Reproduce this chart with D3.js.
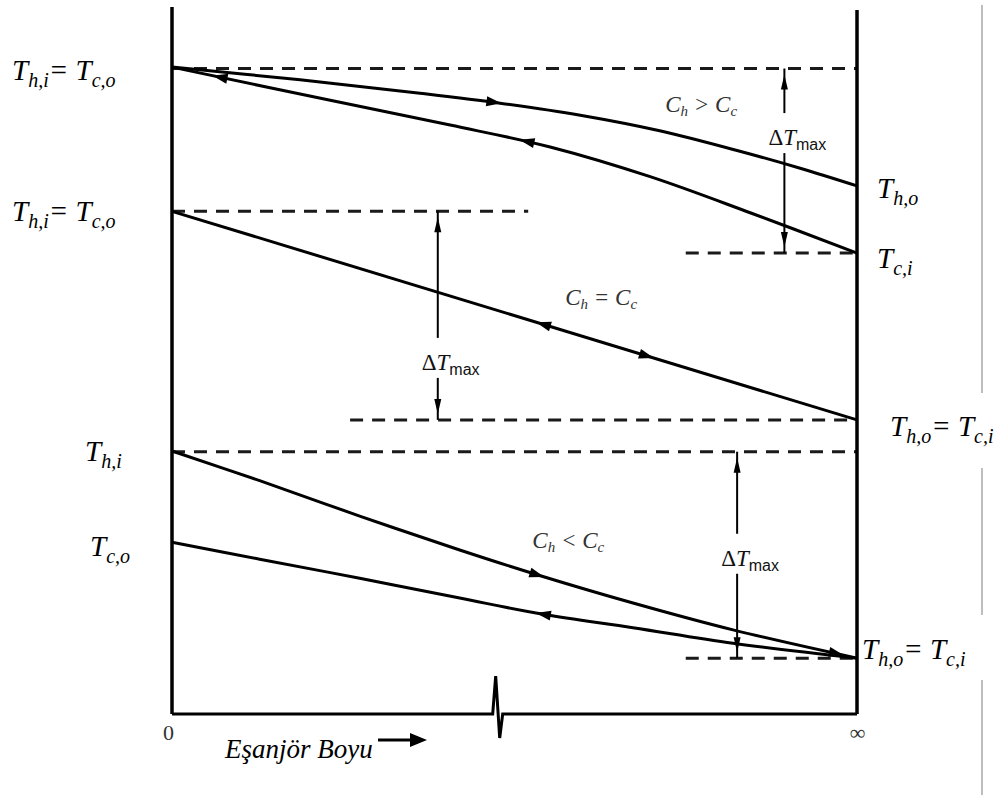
<!DOCTYPE html>
<html>
<head>
<meta charset="utf-8">
<script src="https://cdn.jsdelivr.net/npm/d3@7"></script>
<style>
  body { margin: 0; background: #fff; }
  svg { display: block; }
</style>
</head>
<body>
<svg id="chart" width="1003" height="800"></svg>
<script>
// Position along the exchanger: 0 = entrance, 1 = infinite length
const xTickValues = [0, 1];
const xTickLabels = ["0", "\u221E"];

// Case C_h > C_c : hot and cold temperature profiles
const hot1X  = [0, 0.187, 0.362, 0.479, 0.596, 0.712, 0.829, 0.917, 1];
const hot1T  = [91.5, 89.7, 87.8, 86.4, 84.7, 82.5, 79.6, 77.2, 74.7];
const cold1X = [0, 0.231, 0.406, 0.552, 0.698, 0.844, 1];
const cold1T = [91.5, 86.8, 83.3, 80.2, 76.0, 70.9, 65.2];

// Case C_h = C_c : both streams share one straight profile
const equal2X = [0, 1];
const equal2T = [71.1, 41.6];

// Case C_h < C_c
const hot3X  = [0, 0.128, 0.274, 0.42, 0.533, 0.673, 0.819, 1];
const hot3T  = [37.2, 33.0, 28.0, 23.2, 19.7, 15.7, 11.9, 7.9];
const cold3X = [0, 0.128, 0.274, 0.42, 0.542, 0.673, 0.819, 1];
const cold3T = [24.3, 21.9, 19.2, 16.4, 14.1, 12.2, 10.0, 7.9];

// Dashed reference temperature levels: level, start, end
const refT    = [91.3, 65.2, 71.1, 41.6, 37.1, 7.9];
const refFrom = [0, 0.75, 0, 0.26, 0, 0.75];
const refTo   = [1, 1, 0.52, 1, 1, 1];

// ΔTmax spans: position, upper level, lower level, label level
const dTX      = [0.894, 0.388, 0.825];
const dTTop    = [91.3, 71.1, 37.1];
const dTBottom = [65.2, 41.6, 7.9];
const dTLabelT = [81.6, 49.8, 22.1];

// Flow-direction arrows: which profile, position, direction (+1 right, -1 left)
const flowCurve = ["hot1", "cold1", "cold1", "equal2", "equal2", "hot3", "hot3", "cold3"];
const flowX     = [0.47, 0.518, 0.07, 0.542, 0.693, 0.533, 0.97, 0.542];
const flowDir   = [1, -1, -1, -1, 1, 1, 1, -1];

// Capacity-rate case labels
const caseText = ["C_{h} > C_{c}", "C_{h} = C_{c}", "C_{h} < C_{c}"];
const caseX    = [0.72, 0.574, 0.526];
const caseT    = [85.1, 57.9, 23.5];

// Terminal temperature labels
const tempText = ["T_{h,i}= T_{c,o}", "T_{h,i}= T_{c,o}", "T_{h,i}", "T_{c,o}",
                  "T_{h,o}", "T_{c,i}", "T_{h,o}= T_{c,i}", "T_{h,o}= T_{c,i}"];
const tempPos  = [[12, 80], [12, 221], [85, 461], [90, 556],
                  [877, 198], [877, 268], [890, 436], [862, 659]];

const axisTitle = "E\u015Fanj\u00F6r Boyu";

const svg = d3.select("#chart");
const x = d3.scaleLinear().domain([0, 1]).range([172, 857]);
const y = d3.scaleLinear().domain([0, 100]).range([714, 7]);

const serif = "'Liberation Serif', 'Times New Roman', serif";
const sans = "'Liberation Sans', Arial, sans-serif";

// thin gray rule at the far right
const ruleSegs = [[5, 393], [468, 615], [680, 795]];
svg.append("g").selectAll("line").data(ruleSegs).join("line")
  .attr("x1", 982).attr("x2", 982)
  .attr("y1", d => d[0]).attr("y2", d => d[1])
  .attr("stroke", "#a8a8a8").attr("stroke-width", 1.5);

// dashed reference levels
svg.append("g").selectAll("line").data(refT).join("line")
  .attr("x1", (d, i) => x(refFrom[i])).attr("x2", (d, i) => x(refTo[i]))
  .attr("y1", d => y(d)).attr("y2", d => y(d))
  .attr("stroke", "#1a1a1a").attr("stroke-width", 3)
  .attr("stroke-dasharray", "13,9");

// temperature profiles
const line = d3.line().x(d => x(d[0])).y(d => y(d[1])).curve(d3.curveCatmullRom.alpha(0.5));
const profiles = {
  hot1: d3.zip(hot1X, hot1T),
  cold1: d3.zip(cold1X, cold1T),
  equal2: d3.zip(equal2X, equal2T),
  hot3: d3.zip(hot3X, hot3T),
  cold3: d3.zip(cold3X, cold3T)
};
const pathNodes = {};
const gCurves = svg.append("g");
Object.keys(profiles).forEach(k => {
  pathNodes[k] = gCurves.append("path")
    .attr("d", line(profiles[k]))
    .attr("fill", "none").attr("stroke", "#000")
    .attr("stroke-width", 3).attr("stroke-linejoin", "round")
    .node();
});

// locate a point on a path at a given screen x
function pointAtX(node, px) {
  const total = node.getTotalLength();
  let lo = 0, hi = total;
  for (let k = 0; k < 40; k++) {
    const mid = (lo + hi) / 2;
    if (node.getPointAtLength(mid).x < px) lo = mid; else hi = mid;
  }
  const l = (lo + hi) / 2;
  const p = node.getPointAtLength(l);
  const a = node.getPointAtLength(Math.max(0, l - 2));
  const b = node.getPointAtLength(Math.min(total, l + 2));
  return { x: p.x, y: p.y, ang: Math.atan2(b.y - a.y, b.x - a.x) };
}

// flow-direction arrowheads
const gFlow = svg.append("g");
flowX.forEach((fx, i) => {
  const p = pointAtX(pathNodes[flowCurve[i]], x(fx));
  const ang = p.ang + (flowDir[i] < 0 ? Math.PI : 0);
  const L = 15, W = 5;
  const cx = Math.cos(ang), cy = Math.sin(ang);
  const tip = [p.x + cx * L / 2, p.y + cy * L / 2];
  const bx = p.x - cx * L / 2, by = p.y - cy * L / 2;
  const b1 = [bx - cy * W, by + cx * W];
  const b2 = [bx + cy * W, by - cx * W];
  gFlow.append("path")
    .attr("d", `M${tip}L${b1}L${b2}Z`)
    .attr("fill", "#000");
});

// rich text with subscripts written as _{...}
function richText(textSel, str, size, subSize, subDy) {
  const parts = str.split(/(_\{[^}]*\})/).filter(s => s.length);
  let offset = 0;
  parts.forEach(p => {
    const isSub = p.startsWith("_{");
    const target = isSub ? subDy : 0;
    textSel.append("tspan")
      .attr("dy", target - offset)
      .attr("font-size", isSub ? subSize : size)
      .text(isSub ? p.slice(2, -1) : p);
    offset = target;
  });
}

// ΔTmax dimension arrows
const gDT = svg.append("g");
dTX.forEach((dx, i) => {
  const px = x(dx);
  const yTop = y(dTTop[i]), yBot = y(dTBottom[i]), yLab = y(dTLabelT[i]);
  gDT.append("line").attr("x1", px).attr("x2", px)
    .attr("y1", yTop).attr("y2", yLab - 24)
    .attr("stroke", "#000").attr("stroke-width", 2);
  gDT.append("line").attr("x1", px).attr("x2", px)
    .attr("y1", yLab + 16).attr("y2", yBot)
    .attr("stroke", "#000").attr("stroke-width", 2);
  const tU = yTop + 6, tD = yBot - 6;
  gDT.append("path").attr("d", `M${px},${tU}L${px - 3.5},${tU + 15}L${px + 3.5},${tU + 15}Z`).attr("fill", "#000");
  gDT.append("path").attr("d", `M${px},${tD}L${px - 3.5},${tD - 15}L${px + 3.5},${tD - 15}Z`).attr("fill", "#000");
  const t = gDT.append("text")
    .attr("x", px - 16).attr("y", yLab + 8)
    .attr("fill", "#111");
  t.append("tspan").attr("font-family", serif).attr("font-size", 23).text("\u0394");
  t.append("tspan").attr("font-family", serif).attr("font-style", "italic").attr("font-size", 23).text("T");
  t.append("tspan").attr("font-family", sans).attr("font-size", 16).attr("dy", 5).text("max");
});

// capacity-rate case labels
caseText.forEach((s, i) => {
  const t = svg.append("text")
    .attr("x", x(caseX[i])).attr("y", y(caseT[i]))
    .attr("font-family", serif).attr("font-style", "italic")
    .attr("fill", "#333");
  richText(t, s.replace(/ ([<>=]) /g, "  $1  "), 23, 15, 4);
});

// axes: left, right, and bottom with a break mark
const gAxes = svg.append("g");
gAxes.append("line").attr("x1", x(0)).attr("x2", x(0))
  .attr("y1", y(100)).attr("y2", y(0))
  .attr("stroke", "#000").attr("stroke-width", 3.5);
gAxes.append("line").attr("x1", x(1)).attr("x2", x(1))
  .attr("y1", 10).attr("y2", y(0))
  .attr("stroke", "#000").attr("stroke-width", 3.5);
const xb = x(0.474);
gAxes.append("path")
  .attr("d", `M${x(0)},${y(0)}H${xb - 4}L${xb - 1},${y(0) - 38}L${xb + 3},${y(0) + 24}L${xb + 6},${y(0)}H${x(1)}`)
  .attr("fill", "none").attr("stroke", "#000")
  .attr("stroke-width", 3).attr("stroke-linejoin", "miter");

const xAxis = d3.axisBottom(x)
  .tickValues(xTickValues)
  .tickFormat((d, i) => xTickLabels[i])
  .tickSize(0).tickPadding(10);
const gx = svg.append("g").attr("transform", `translate(0,${y(0)})`).call(xAxis);
gx.select(".domain").remove();
gx.selectAll("text")
  .attr("font-family", serif).attr("font-size", 22).attr("fill", "#333");
gx.selectAll("text").filter((d, i) => i === 0).attr("dx", -4);

// axis title with direction arrow
svg.append("text").attr("x", 225).attr("y", 758)
  .attr("font-family", serif).attr("font-style", "italic")
  .attr("font-size", 27).attr("fill", "#000").text(axisTitle);
svg.append("line").attr("x1", 378).attr("x2", 412).attr("y1", 740).attr("y2", 740)
  .attr("stroke", "#000").attr("stroke-width", 3);
svg.append("path").attr("d", "M427,740L410,733L410,747Z").attr("fill", "#000");

// terminal temperature labels
tempText.forEach((s, i) => {
  const t = svg.append("text")
    .attr("x", tempPos[i][0]).attr("y", tempPos[i][1])
    .attr("font-family", serif).attr("font-style", "italic")
    .attr("fill", "#000");
  richText(t, s, 29, 20, 7);
});
</script>
</body>
</html>
